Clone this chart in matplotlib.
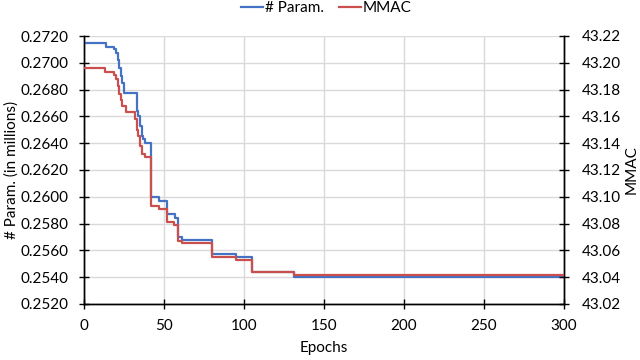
import matplotlib
matplotlib.use("Agg")
import matplotlib.pyplot as plt

plt.rcParams['font.family'] = ['Lato', 'DejaVu Sans']

# epochs at which the value changes (step-wise), last point = end of training
param_epochs = [0, 14, 19, 20, 21, 22, 23, 24, 25, 33, 34, 35, 36, 37, 38, 42, 47,
                52, 57, 59, 61, 80, 95, 105, 131, 300]
param_values = [0.27150, 0.27120, 0.27100, 0.27070, 0.27020, 0.26960, 0.26900,
                0.26850, 0.26778, 0.26640, 0.26600, 0.26530, 0.26450, 0.26430,
                0.26400, 0.26000, 0.25970, 0.25870, 0.25840, 0.25700, 0.25680,
                0.25570, 0.25550, 0.25440, 0.25405, 0.25405]

mmac_epochs = [0, 13, 19, 20, 21, 22, 23, 24, 26, 32, 33, 34, 35, 36, 38, 42, 47,
               52, 56, 59, 61, 80, 95, 105, 131, 300]
mmac_values = [43.1959, 43.1929, 43.1910, 43.1880, 43.1830, 43.1770, 43.1720,
               43.1680, 43.1630, 43.1580, 43.1500, 43.1450, 43.1380, 43.1320,
               43.1300, 43.0930, 43.0910, 43.0810, 43.0790, 43.0670, 43.0653,
               43.0553, 43.0530, 43.0441, 43.0417, 43.0417]

left_ticks = [0.2520, 0.2540, 0.2560, 0.2580, 0.2600, 0.2620, 0.2640, 0.2660,
              0.2680, 0.2700, 0.2720]
right_ticks = [43.02, 43.04, 43.06, 43.08, 43.10, 43.12, 43.14, 43.16, 43.18,
               43.20, 43.22]
x_ticks = [0, 50, 100, 150, 200, 250, 300]

blue = '#4472C4'
red = '#C9504D'
fs = 11

fig = plt.figure(figsize=(6.4, 3.6), dpi=100)
ax = fig.add_axes([0.13125, 0.1556, 0.75, 0.7444])
ax2 = ax.twinx()

l1, = ax.plot(param_epochs, param_values, drawstyle='steps-post', color=blue,
              lw=1.6, label='# Param.', zorder=3)
l2, = ax2.plot(mmac_epochs, mmac_values, drawstyle='steps-post', color=red,
               lw=1.6, label='MMAC', zorder=3)

ax.set_xlim(0, 300)
ax.set_ylim(0.2520, 0.2720)
ax2.set_ylim(43.02, 43.22)
ax.set_xticks(x_ticks)
ax.set_yticks(left_ticks)
ax.set_yticklabels(['%.4f' % v for v in left_ticks])
ax2.set_yticks(right_ticks)
ax2.set_yticklabels(['%.2f' % v for v in right_ticks])

ax.grid(True, color='#D9D9D9', lw=1.0)
ax.set_axisbelow(True)

for a in (ax, ax2):
    a.spines['top'].set_visible(False)
    for s in ('left', 'right', 'bottom'):
        a.spines[s].set_color('#000000')
        a.spines[s].set_linewidth(1.0)
    a.tick_params(direction='inout', length=7, width=1.0, labelsize=fs,
                  colors='#000000')
ax.tick_params(axis='y', pad=8)
ax2.tick_params(axis='y', pad=9)
ax.tick_params(axis='x', pad=7)

ax.set_xlabel('Epochs', fontsize=fs, labelpad=6)
ax.set_ylabel('# Param. (in millions)', fontsize=fs, labelpad=1)
ax2.set_ylabel('MMAC', fontsize=fs, labelpad=3)

fig.legend(handles=[l1, l2], loc='upper center', bbox_to_anchor=(0.51, 1.035),
           ncol=2, frameon=False, fontsize=fs, handlelength=1.45,
           handletextpad=0.1, columnspacing=1.0)

fig.savefig('out.png', dpi=100)
